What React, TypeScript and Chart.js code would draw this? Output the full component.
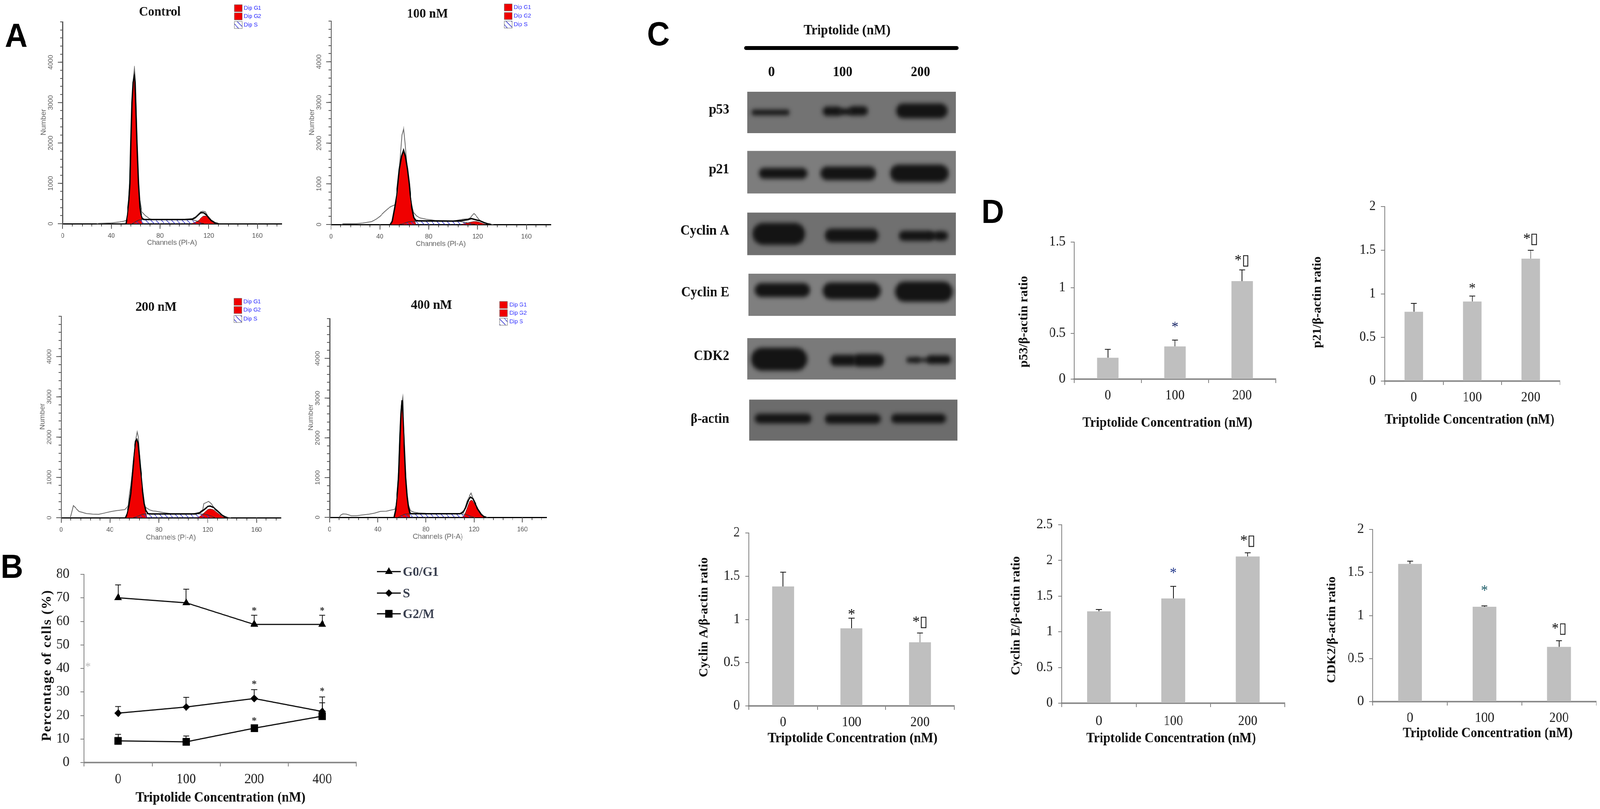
import { useEffect, useRef } from "react"
import { Chart, registerables } from "chart.js"
import { drawPoint } from "chart.js/helpers"

Chart.register(...registerables)

const SERIF = "'Liberation Serif', serif"
const SANS = "'Liberation Sans', sans-serif"
const PAGE_WIDTH = 4316

// ---- panel A: flow cytometry, [channel, count]
const controlRaw = [[28,0],[30,10],[40,20],[46,40],[50,60],[52,80],[53,130],[54,400],[55,1000],[56,2000],[57,3000],[58,3600],[59,3910],[60,3500],[61,2200],[62,1200],[63,650],[65,300],[68,200],[71,130],[73,110],[100,105],[106,120],[110,180],[113,290],[115,310],[117,300],[119,200],[122,90],[126,15],[128,0]]
const controlG1 = [[52,0],[53.2,220],[54.5,600],[55.3,1000],[56,2000],[56.9,3000],[57.8,3500],[58.9,3680],[59.5,3500],[60.1,3000],[61.1,2000],[62.3,1000],[63.5,400],[64.4,200],[65.2,0]]
const controlG2 = [[106,0],[110,50],[112,90],[114,150],[116,190],[118,190],[120,130],[122,70],[124,20],[126,0]]
const controlS = [[57,0],[60,50],[63,95],[66,100],[104,100],[107,95],[110,70],[113,30],[116,0]]
const controlFit = [[52,0],[53.2,220],[54.5,600],[55.3,1000],[56,2000],[56.9,3000],[57.8,3500],[58.9,3680],[59.5,3500],[60.1,3000],[61.1,2000],[62.3,1000],[63.5,400],[64.4,220],[65.5,130],[67,105],[100,105],[107,115],[109,150],[112,240],[114,275],[116,270],[119,190],[122,80],[125,25],[128,0]]
const controlPeaks = [58.9, 113.9]

const nM100Raw = [[8.5,0],[10,20],[20,20],[26,35],[33,70],[37,130],[40,200],[44,320],[47,400],[49,440],[52,480],[53,520],[54.5,800],[55.5,1200],[56.5,1600],[58,2200],[59.5,2370],[60.7,2000],[61.5,1700],[62.5,1350],[64,1000],[66,500],[67.5,300],[70,210],[73,160],[78,130],[85,100],[100,85],[108,130],[112,140],[114,160],[115.5,220],[117,270],[119,210],[121,130],[123,70],[126,30],[130,10],[133,0]]
const nM100G1 = [[48.6,0],[50.1,80],[52,400],[53.7,720],[54.7,1000],[55.9,1360],[57.7,1680],[59.4,1840],[60.9,1680],[62.6,1360],[64,1000],[64.8,720],[66.3,400],[67.8,170],[69.4,0]]
const nM100G2 = [[107,0],[110,30],[114,55],[118,75],[122,50],[125,15],[127,0]]
const nM100S = [[56,0],[60,30],[64,70],[68,80],[105,75],[110,50],[115,20],[118,0]]
const nM100Fit = [[48.6,0],[50.1,80],[52,400],[53.7,720],[54.7,1000],[55.9,1360],[57.7,1680],[59.4,1840],[60.9,1680],[62.6,1360],[64,1000],[64.8,720],[66.3,400],[67.8,170],[69.4,100],[72,90],[100,85],[107,95],[112,120],[115,145],[118,120],[122,90],[125,50],[128,20],[131,0]]
const nM100Peaks = [60, 117]

const nM200Raw = [[7.6,0],[10,300],[14.7,155],[20.7,105],[25.8,90],[30.8,85],[35.9,120],[41,155],[46,180],[52,200],[55,300],[56,600],[57,800],[58.5,1200],[60,1700],[61.5,2000],[62.3,2130],[63.2,2000],[64,1600],[65,1200],[66.5,700],[68,350],[69,260],[72,200],[75,170],[78,160],[83,130],[90,100],[108,100],[113,130],[116,200],[116.8,350],[120.8,405],[122.9,350],[126,200],[131,80],[135,15],[139,0]]
const nM200G1 = [[52.6,0],[54,100],[55.5,300],[57,600],[58.1,1000],[59.2,1400],[60.2,1700],[61,1900],[62,1945],[63,1850],[63.8,1600],[64.8,1250],[65.7,1000],[66.8,650],[68,350],[69.2,120],[70.3,0]]
const nM200G2 = [[111,0],[114,40],[117,120],[120,200],[122,215],[125,190],[128,120],[131,50],[133,15],[135,0]]
const nM200S = [[59,0],[63,40],[67,90],[70,95],[108,90],[112,95],[118,85],[122,50],[126,0]]
const nM200Fit = [[52.6,0],[54,100],[55.5,300],[57,600],[58.1,1000],[59.2,1400],[60.2,1700],[61,1900],[62,1945],[63,1850],[63.8,1600],[64.8,1250],[65.7,1000],[66.8,650],[68,350],[69.3,180],[71,100],[74,95],[110,95],[114,130],[117,200],[120,280],[122,290],[125,250],[128,170],[131,80],[134,25],[136,0]]
const nM200Peaks = [63, 120.6]

const nM400Raw = [[8,0],[9.5,60],[11,85],[14,80],[18,40],[22,40],[27,60],[33,80],[38,110],[42,150],[47,155],[52,190],[54,200],[55,300],[56.5,700],[57.5,1300],[58.5,2200],[59.5,2800],[60.7,3030],[61.5,2500],[62.5,1500],[63.5,900],[65,350],[67,170],[70,130],[74,110],[80,100],[108,90],[112,180],[114,400],[116,530],[117.5,610],[119,480],[121,330],[124,140],[127,40],[131,0]]
const nM400G1 = [[53.5,0],[55.2,245],[56.3,600],[57.3,1000],[58.4,2000],[59.2,2600],[60.1,2945],[60.9,2600],[61.8,2000],[63.2,1000],[64.3,550],[65.5,245],[66.6,0]]
const nM400G2 = [[110,0],[112,60],[114,220],[116,380],[118,430],[120,350],[122,240],[124,130],[126,50],[128,0]]
const nM400S = [[57,0],[60,50],[64,85],[66,85],[108,85],[112,80],[116,40],[120,0]]
const nM400Fit = [[53.5,0],[55.2,245],[56.3,600],[57.3,1000],[58.4,2000],[59.2,2600],[60.1,2945],[60.9,2600],[61.8,2000],[63.2,1000],[64.3,550],[65.5,245],[66.6,110],[68,90],[108,90],[111,130],[113,250],[115,420],[117,510],[119,470],[121,340],[123,210],[126,70],[128,20],[130,0]]
const nM400Peaks = [60.7, 116.5]

const flowLegendNames = ["Dip G1", "Dip G2", "Dip S"]

// ---- panel B
const doses = ["0", "100", "200", "400"]
const g0g1 = [70.06, 67.9, 58.7, 58.7]
const g0g1Upper = [75.5, 73.7, 62.6, 62.6]
const sPhase = [21, 23.6, 27.2, 21.7]
const sPhaseUpper = [23.8, 27.7, 31, 27.9]
const g2m = [9.2, 8.8, 14.6, 19.7]
const g2mUpper = [12, 11.3, 15.8, 25.4]

// ---- panel C: western blot bands in gel units
const blotNames = ["p53", "p21", "Cyclin A", "Cyclin E", "CDK2", "β-actin"]
const blotLanes = ["0", "100", "200"]
const blotRowY = [288, 441, 599, 755, 919, 1076]
const blotRowStart = [16, 16, 16, 19, 16, 21]
const blotRowEnd = [578, 578, 578, 578, 578, 583]
const blotRowHeight = [106, 109, 109, 108, 106, 105]
const blotRowShade = ["#737373", "#7d7d7d", "#707070", "#7f7f7f", "#7a7a7a", "#6c6c6c"]
// start, end, y, thickness
const blotBands = [
  [27,130,288,14],[219,270,285,24],[260,300,286,16],[290,341,284,24],[417,556,284,38],
  [47,178,444,28],[213,363,444,35],[401,559,444,45],
  [30,172,599,56],[225,370,603,35],[425,520,604,26],[505,530,604,14],[520,557,604,24],
  [36,185,743,36],[219,376,745,43],[414,570,747,52],
  [26,178,920,59],[239,310,923,29],[300,385,923,33],[445,480,922,14],[470,510,922,9],[500,565,921,22],
  [36,189,1072,25],[225,376,1073,25],[404,552,1072,24],
]

// ---- panel D
const barDoses = ["0", "100", "200"]
const p53Ratio = [0.234, 0.358, 1.073]
const p53Upper = [0.326, 0.427, 1.195]
const p21Ratio = [0.794, 0.912, 1.403]
const p21Upper = [0.89, 0.974, 1.499]
const cycARatio = [1.382, 0.897, 0.736]
const cycAUpper = [1.546, 1.015, 0.843]
const cycERatio = [1.287, 1.468, 2.056]
const cycEUpper = [1.313, 1.637, 2.107]
const cdk2Ratio = [1.6, 1.102, 0.636]
const cdk2Upper = [1.631, 1.112, 0.707]

const STAR = "*"
const STAR_BOX = "*\u25AF"

type Rect = { x0: number; x1: number; y0: number; y1: number; ml: number; mr: number; mt: number; mb: number }
type Txt = { t: string; x: number; y: number; font: string; color?: string; rot?: boolean; align?: CanvasTextAlign; spacing?: string }

const rectOf = (r: Rect) => ({
  left: r.x0 - r.ml,
  top: r.y0 - r.mt,
  width: r.x1 - r.x0 + r.ml + r.mr,
  height: r.y1 - r.y0 + r.mt + r.mb,
})

const letterFont = `bold 85px ${SANS}`
const titleFont = `bold 35px ${SERIF}`
const tickFont = { family: SERIF, size: 35 }

// writes text at page coordinates
const pageText = {
  id: "pageText",
  afterDraw(chart: any) {
    const { texts, rect } = chart.options.plugins.pageText
    if (!texts) return
    const ctx = chart.ctx
    const box = rectOf(rect)
    for (const s of texts as Txt[]) {
      ctx.save()
      ctx.translate(s.x - box.left, s.y - box.top)
      if (s.rot) ctx.rotate(-Math.PI / 2)
      ctx.font = s.font
      ctx.letterSpacing = s.spacing || "0px"
      ctx.fillStyle = s.color || "#111"
      ctx.textAlign = s.align || "center"
      ctx.textBaseline = "middle"
      ctx.fillText(s.t, 0, 0)
      ctx.restore()
    }
  },
}

// upper error bars, read from dataset.upper
const errorBars = {
  id: "errorBars",
  beforeDatasetsDraw(chart: any) {
    const ctx = chart.ctx
    chart.data.datasets.forEach((ds: any, i: number) => {
      if (!ds.upper) return
      chart.getDatasetMeta(i).data.forEach((el: any, j: number) => {
        const y = chart.scales.y.getPixelForValue(ds.upper[j])
        const base = chart.scales.y.getPixelForValue(ds.data[j])
        ctx.save()
        ctx.strokeStyle = "#111"
        ctx.lineWidth = 2
        ctx.beginPath()
        ctx.moveTo(el.x, base)
        ctx.lineTo(el.x, y)
        ctx.moveTo(el.x - 8, y)
        ctx.lineTo(el.x + 8, y)
        ctx.stroke()
        ctx.restore()
      })
    })
  },
}

// significance marks: [category, value, text]
const sigMarks = {
  id: "sigMarks",
  afterDatasetsDraw(chart: any) {
    const { marks, font, color } = chart.options.plugins.sigMarks
    if (!marks) return
    const ctx = chart.ctx
    ctx.save()
    ctx.font = font
    ctx.textAlign = "center"
    ctx.textBaseline = "middle"
    for (const [cat, value, text] of marks) {
      ctx.fillStyle = text === STAR ? color : "#111"
      ctx.fillText(text, chart.scales.x.getPixelForValue(cat), chart.scales.y.getPixelForValue(value) + 6)
    }
    ctx.restore()
  },
}

// longer ticks on the flow axes and the small Dip legend
const flowExtras = {
  id: "flowExtras",
  afterDraw(chart: any) {
    const opts = chart.options.plugins.flowExtras
    if (!opts.legend) return
    const ctx = chart.ctx
    const { x: xs, y: ys } = chart.scales
    const box = rectOf(opts.rect)
    ctx.save()
    ctx.strokeStyle = "#555"
    ctx.lineWidth = 2
    ctx.beginPath()
    ys.ticks.forEach((t: any) => {
      if (t.value % 1000 === 0 && t.value < 5000) {
        const p = ys.getPixelForValue(t.value)
        ctx.moveTo(ys.right, p)
        ctx.lineTo(ys.right - 13, p)
      }
    })
    xs.ticks.forEach((t: any) => {
      if (t.value % 40 === 0) {
        const p = xs.getPixelForValue(t.value)
        ctx.moveTo(p, xs.top)
        ctx.lineTo(p, xs.top + 13)
      }
    })
    ctx.stroke()
    flowLegendNames.forEach((name, i) => {
      const sx = opts.legend.x - box.left
      const sy = opts.legend.ys[i] - box.top
      ctx.fillStyle = i < 2 ? "#f00000" : opts.hatch
      if (i === 2) {
        ctx.fillStyle = "#fff"
        ctx.fillRect(sx, sy - 9, 21, 18)
        ctx.fillStyle = opts.hatch
      }
      ctx.fillRect(sx, sy - 9, 21, 18)
      ctx.strokeStyle = "#666"
      ctx.lineWidth = 1
      ctx.strokeRect(sx, sy - 9, 21, 18)
      ctx.fillStyle = "#2a2aff"
      ctx.font = `15px ${SANS}`
      ctx.textAlign = "left"
      ctx.textBaseline = "middle"
      ctx.fillText(name, sx + 26, sy)
    })
    ctx.restore()
  },
}

// blurred blot bands
const bandBlur = {
  id: "bandBlur",
  beforeDatasetDraw(chart: any, args: any) {
    if (chart.data.datasets[args.index].blur) chart.ctx.filter = "blur(6px)"
  },
  afterDatasetDraw(chart: any) {
    chart.ctx.filter = "none"
  },
}

// legend of panel B, built from the datasets
const phaseLegend = {
  id: "phaseLegend",
  afterDraw(chart: any) {
    const opts = chart.options.plugins.phaseLegend
    if (!opts.ys) return
    const ctx = chart.ctx
    const box = rectOf(opts.rect)
    ctx.save()
    chart.data.datasets.forEach((ds: any, i: number) => {
      const y = opts.ys[i] - box.top
      const x = 1017 - box.left
      ctx.strokeStyle = "#000"
      ctx.lineWidth = 3
      ctx.beginPath()
      ctx.moveTo(x, y)
      ctx.lineTo(x + 64, y)
      ctx.stroke()
      ctx.fillStyle = "#000"
      drawPoint(ctx, { pointStyle: ds.pointStyle, radius: ds.pointRadius, rotation: 0, borderWidth: 0 } as any, x + 32, y)
      ctx.font = `bold 34px ${SERIF}`
      ctx.fillStyle = "#3a4050"
      ctx.textAlign = "left"
      ctx.textBaseline = "middle"
      ctx.fillText(ds.label, x + 70, y + 2)
    })
    ctx.restore()
  },
}

const hatchPattern = () => {
  const c = document.createElement("canvas")
  c.width = 14
  c.height = 14
  const g = c.getContext("2d")!
  g.strokeStyle = "#3a3ad0"
  g.lineWidth = 1.6
  g.beginPath()
  g.moveTo(-2, -2)
  g.lineTo(16, 16)
  g.moveTo(-9, 5)
  g.lineTo(9, 23)
  g.moveTo(5, -9)
  g.lineTo(23, 9)
  g.stroke()
  return g.createPattern(c, "repeat")!
}

const pts = (list: number[][]) => list.map(([x, y]) => ({ x, y }))

type FlowDef = {
  rect: Rect
  raw: number[][]
  g1: number[][]
  g2: number[][]
  s: number[][]
  fit: number[][]
  peaks: number[]
  legend: { x: number; ys: number[] }
  texts: Txt[]
}

const flowFont = `19px ${SANS}`
const flowGrey = "#666"

const flowConfig = (f: FlowDef) => {
  const hatch = hatchPattern()
  return {
    type: "line",
    data: {
      datasets: [
        { data: f.peaks.map((x) => ({ x, y: -115 })), showLine: false, pointStyle: "triangle", pointRadius: 11, pointBackgroundColor: "#000", pointBorderWidth: 0, clip: false },
        { data: pts(f.fit), borderColor: "#000", borderWidth: 3.5, pointRadius: 0, fill: false, clip: false },
        { data: pts(f.raw), borderColor: flowGrey, borderWidth: 2, pointRadius: 0, fill: false, clip: false },
        { data: pts(f.s), borderColor: "#333", borderWidth: 1.5, pointRadius: 0, fill: "origin", backgroundColor: hatch, cubicInterpolationMode: "monotone" },
        { data: pts(f.g2), borderColor: "#300", borderWidth: 1, pointRadius: 0, fill: "origin", backgroundColor: "#f00000", cubicInterpolationMode: "monotone" },
        { data: pts(f.g1), borderColor: "#300", borderWidth: 1, pointRadius: 0, fill: "origin", backgroundColor: "#f00000" },
      ],
    },
    options: {
      responsive: false,
      animation: false,
      devicePixelRatio: 1,
      events: [],
      layout: { autoPadding: false, padding: { top: f.rect.mt, right: f.rect.mr } },
      scales: {
        x: {
          type: "linear",
          min: 0,
          max: 180,
          afterFit: (s: any) => { s.height = f.rect.mb },
          border: { color: "#000", width: 3 },
          grid: { drawOnChartArea: false, color: "#555", lineWidth: 2, tickLength: 7 },
          ticks: {
            stepSize: 8,
            autoSkip: false,
            includeBounds: false,
            maxRotation: 0,
            padding: 14,
            color: "#555",
            font: { family: SANS, size: 17 },
            callback: (v: any) => (v % 40 === 0 ? String(v) : ""),
          },
        },
        y: {
          min: 0,
          max: 5000,
          afterFit: (s: any) => { s.width = f.rect.ml },
          border: { color: "#555", width: 3 },
          grid: { drawOnChartArea: false, color: "#555", lineWidth: 2, tickLength: 7 },
          ticks: {
            stepSize: 200,
            autoSkip: false,
            minRotation: 90,
            maxRotation: 90,
            crossAlign: "center",
            padding: 6,
            color: "#555",
            font: { family: SANS, size: 17 },
            callback: (v: any) => (v % 1000 === 0 && v < 5000 ? String(v) : ""),
          },
        },
      },
      plugins: {
        legend: { display: false },
        tooltip: { enabled: false },
        pageText: { texts: f.texts, rect: f.rect },
        flowExtras: { rect: f.rect, legend: f.legend, hatch },
      },
    },
    plugins: [pageText, flowExtras],
  }
}

const flowRect = (x0: number, x1: number, y0: number, y1: number): Rect => ({ x0, x1, y0, y1, ml: 168, mr: 10, mt: 52, mb: 72 })

const flows: FlowDef[] = [
  {
    rect: flowRect(169, 760, 56, 573),
    raw: controlRaw, g1: controlG1, g2: controlG2, s: controlS, fit: controlFit, peaks: controlPeaks,
    legend: { x: 632, ys: [21, 42, 64] },
    texts: [
      { t: "A", x: 44, y: 97, font: letterFont, color: "#000" },
      { t: "Control", x: 431, y: 31, font: `bold 34px ${SERIF}` },
      { t: "Channels (PI-A)", x: 464, y: 622, font: flowFont, color: flowGrey },
      { t: "Number", x: 118, y: 313, font: flowFont, color: flowGrey, rot: true },
    ],
  },
  {
    rect: flowRect(893, 1486, 54, 575),
    raw: nM100Raw, g1: nM100G1, g2: nM100G2, s: nM100S, fit: nM100Fit, peaks: nM100Peaks,
    legend: { x: 1360, ys: [19, 41, 63] },
    texts: [
      { t: "100 nM", x: 1153, y: 36, font: `bold 34px ${SERIF}` },
      { t: "Channels (PI-A)", x: 1189, y: 625, font: flowFont, color: flowGrey },
      { t: "Number", x: 842, y: 313, font: flowFont, color: flowGrey, rot: true },
    ],
  },
  {
    rect: flowRect(165, 758, 810, 1326),
    raw: nM200Raw, g1: nM200G1, g2: nM200G2, s: nM200S, fit: nM200Fit, peaks: nM200Peaks,
    legend: { x: 631, ys: [773, 794, 817] },
    texts: [
      { t: "200 nM", x: 421, y: 787, font: `bold 34px ${SERIF}` },
      { t: "Channels (PI-A)", x: 461, y: 1377, font: flowFont, color: flowGrey },
      { t: "Number", x: 115, y: 1067, font: flowFont, color: flowGrey, rot: true },
    ],
  },
  {
    rect: flowRect(889, 1474, 816, 1325),
    raw: nM400Raw, g1: nM400G1, g2: nM400G2, s: nM400S, fit: nM400Fit, peaks: nM400Peaks,
    legend: { x: 1348, ys: [781, 802, 824] },
    texts: [
      { t: "400 nM", x: 1164, y: 782, font: `bold 34px ${SERIF}` },
      { t: "Channels (PI-A)", x: 1181, y: 1375, font: flowFont, color: flowGrey },
      { t: "Number", x: 839, y: 1069, font: flowFont, color: flowGrey, rot: true },
    ],
  },
]

const AXIS_GREY = "#808080"

const catTicks = (rect: Rect, padding: number) => ({
  afterFit: (s: any) => { s.height = rect.mb },
  offset: true,
  border: { color: "#8c8c8c", width: 4 },
  grid: { drawOnChartArea: false, offset: true, color: AXIS_GREY, lineWidth: 2, tickLength: 10 },
  ticks: { font: tickFont, color: "#222", padding, maxRotation: 0, autoSkip: false },
})

const valueTicks = (rect: Rect, max: number, step: number, padding: number) => ({
  min: 0,
  max,
  afterFit: (s: any) => { s.width = rect.ml },
  border: { color: AXIS_GREY, width: 2 },
  grid: { drawOnChartArea: false, color: AXIS_GREY, lineWidth: 2, tickLength: 10 },
  ticks: { stepSize: step, font: tickFont, color: "#222", padding, autoSkip: false, callback: (v: any) => String(v) },
})

// panel B
const phaseRect: Rect = { x0: 227, x1: 961, y0: 1450, y1: 1953, ml: 227, mr: 260, mt: 30, mb: 119 }

const phaseConfig = () => ({
  type: "line",
  data: {
    labels: doses,
    datasets: [
      { label: "G0/G1", data: g0g1, upper: g0g1Upper, pointStyle: "triangle", pointRadius: 12 },
      { label: "S", data: sPhase, upper: sPhaseUpper, pointStyle: "rectRot", pointRadius: 10 },
      { label: "G2/M", data: g2m, upper: g2mUpper, pointStyle: "rect", pointRadius: 14 },
    ].map((d) => ({ ...d, borderColor: "#111", borderWidth: 3, pointBackgroundColor: "#000", pointBorderWidth: 0, fill: false, clip: false })),
  },
  options: {
    responsive: false,
    animation: false,
    devicePixelRatio: 1,
    events: [],
    layout: { autoPadding: false, padding: { top: phaseRect.mt, right: phaseRect.mr } },
    scales: { x: catTicks(phaseRect, 13), y: valueTicks(phaseRect, 80, 10, 30) },
    plugins: {
      legend: { display: false },
      tooltip: { enabled: false },
      errorBars: {},
      sigMarks: {
        marks: [[2, 65.4, STAR], [3, 65.4, STAR], [2, 34.2, STAR], [3, 31.2, STAR], [2, 18.6, STAR]],
        font: `bold 26px ${SERIF}`,
        color: "#333",
      },
      phaseLegend: { ys: [1464, 1519, 1572], rect: phaseRect },
      pageText: {
        rect: phaseRect,
        texts: [
          { t: "B", x: 32, y: 1457, font: letterFont, color: "#000" },
          { t: "*", x: 237, y: 1708, font: `30px ${SERIF}`, color: "#bbb" },
          { t: "Percentage of cells (%)", x: 128, y: 1704, font: `bold 35px ${SERIF}`, rot: true, spacing: "2px" },
          { t: "Triptolide Concentration (nM)", x: 595, y: 2044, font: titleFont },
        ],
      },
    },
  },
  plugins: [errorBars, sigMarks, phaseLegend, pageText],
})

// panel C
const gelRect: Rect = { x0: 2000, x1: 2600, y0: 0, y1: 1200, ml: 300, mr: 20, mt: 0, mb: 0 }

const blotConfig = () => ({
  type: "line",
  data: {
    datasets: [
      { data: pts([[12, 123], [581, 123]]), borderColor: "#000", borderWidth: 10, borderCapStyle: "round", order: 0 },
      ...blotBands.map(([a, b, y, t]) => ({
        data: pts([[a + t / 2, y], [b - t / 2, y]]),
        borderColor: "#141414",
        borderWidth: t,
        borderCapStyle: "round",
        blur: true,
        order: 1,
      })),
      ...blotNames.map((_, i) => ({
        data: pts([[blotRowStart[i], blotRowY[i]], [blotRowEnd[i], blotRowY[i]]]),
        borderColor: blotRowShade[i],
        borderWidth: blotRowHeight[i],
        borderCapStyle: "butt",
        order: 2,
      })),
    ].map((d) => ({ ...d, pointRadius: 0, fill: false, clip: false })),
  },
  options: {
    responsive: false,
    animation: false,
    devicePixelRatio: 1,
    events: [],
    layout: { autoPadding: false, padding: { left: gelRect.ml, right: gelRect.mr } },
    scales: {
      x: { type: "linear", min: 0, max: 600, display: false },
      y: { min: 0, max: 1200, reverse: true, display: false },
    },
    plugins: {
      legend: { display: false },
      tooltip: { enabled: false },
      pageText: {
        rect: gelRect,
        texts: [
          { t: "C", x: 1776, y: 93, font: letterFont, color: "#000" },
          { t: "Triptolide (nM)", x: 2285, y: 79, font: titleFont },
          ...blotLanes.map((t, i) => ({ t, x: [2081, 2273, 2483][i], y: 186, font: titleFont })),
          ...blotNames.map((t, i) => ({ t, x: 1967, y: [282, 435, 592, 750, 913, 1074][i], font: titleFont, align: "right" as CanvasTextAlign })),
        ],
      },
    },
  },
  plugins: [bandBlur, pageText],
})

// panel D
type BarDef = {
  rect: Rect
  values: number[]
  upper: number[]
  max: number
  marks: any[]
  xPad: number
  starColor: string
  texts: Txt[]
}

const barRect = (x0: number, x1: number, y0: number, y1: number): Rect => ({ x0, x1, y0, y1, ml: 290, mr: 10, mt: 130, mb: 150 })

const barConfig = (b: BarDef) => ({
  type: "bar",
  data: {
    labels: barDoses,
    datasets: [
      { data: b.values, upper: b.upper, backgroundColor: "#bfbfbf", categoryPercentage: 1, barPercentage: 0.32 },
    ],
  },
  options: {
    responsive: false,
    animation: false,
    devicePixelRatio: 1,
    events: [],
    layout: { autoPadding: false, padding: { top: b.rect.mt, right: b.rect.mr } },
    scales: { x: catTicks(b.rect, b.xPad), y: valueTicks(b.rect, b.max, 0.5, 14) },
    plugins: {
      legend: { display: false },
      tooltip: { enabled: false },
      errorBars: {},
      sigMarks: { marks: b.marks, font: `38px ${SERIF}`, color: b.starColor },
      pageText: { rect: b.rect, texts: b.texts },
    },
  },
  plugins: [errorBars, sigMarks, pageText],
})

const ratioFont = `bold 33px ${SERIF}`

const bars: BarDef[] = [
  {
    rect: barRect(2898, 3441, 620, 971),
    values: p53Ratio, upper: p53Upper, max: 1.5, xPad: 12, starColor: "#1c2a6a",
    marks: [[1, 0.59, STAR], [2, 1.32, STAR_BOX]],
    texts: [
      { t: "D", x: 2678, y: 548, font: letterFont, color: "#000" },
      { t: "p53/β-actin ratio", x: 2762, y: 824, font: ratioFont, rot: true },
      { t: "Triptolide Concentration (nM)", x: 3149, y: 1084, font: titleFont },
    ],
  },
  {
    rect: barRect(3735, 4208, 529, 976),
    values: p21Ratio, upper: p21Upper, max: 2, xPad: 12, starColor: "#222",
    marks: [[1, 1.083, STAR], [2, 1.651, STAR_BOX]],
    texts: [
      { t: "p21/β-actin ratio", x: 3554, y: 774, font: ratioFont, rot: true },
      { t: "Triptolide Concentration (nM)", x: 3964, y: 1076, font: titleFont },
    ],
  },
  {
    rect: barRect(2020, 2574, 1365, 1808),
    values: cycARatio, upper: cycAUpper, max: 2, xPad: 12, starColor: "#111",
    marks: [[1, 1.079, STAR], [2, 0.993, STAR_BOX]],
    texts: [
      { t: "Cyclin A/β-actin ratio", x: 1899, y: 1581, font: ratioFont, rot: true },
      { t: "Triptolide Concentration (nM)", x: 2300, y: 1892, font: titleFont },
    ],
  },
  {
    rect: barRect(2864, 3466, 1344, 1801),
    values: cycERatio, upper: cycEUpper, max: 2.5, xPad: 16, starColor: "#2a3f8f",
    marks: [[1, 1.849, STAR], [2, 2.303, STAR_BOX]],
    texts: [
      { t: "Cyclin E/β-actin ratio", x: 2741, y: 1577, font: ratioFont, rot: true },
      { t: "Triptolide Concentration (nM)", x: 3159, y: 1892, font: titleFont },
    ],
  },
  {
    rect: barRect(3703, 4306, 1356, 1797),
    values: cdk2Ratio, upper: cdk2Upper, max: 2, xPad: 12, starColor: "#1f5f6a",
    marks: [[1, 1.311, STAR], [2, 0.871, STAR_BOX]],
    texts: [
      { t: "CDK2/β-actin ratio", x: 3593, y: 1613, font: ratioFont, rot: true },
      { t: "Triptolide Concentration (nM)", x: 4013, y: 1879, font: titleFont },
    ],
  },
]

function Panel({ rect, build }: { rect: Rect; build: () => any }) {
  const ref = useRef<HTMLCanvasElement>(null)
  const box = rectOf(rect)

  useEffect(() => {
    if (!ref.current) return
    const chart = new Chart(ref.current, build())
    return () => chart.destroy()
  }, [])

  return (
    <canvas
      ref={ref}
      width={box.width}
      height={box.height}
      style={{ position: "absolute", left: box.left, top: box.top, width: box.width, height: box.height }}
    />
  )
}

export default function App() {
  // the browser window stops at 4096 wide, so squeeze the 4316 layout to fit
  const squeeze = Math.min(1, window.innerWidth / PAGE_WIDTH)
  return (
    <div
      style={{
        position: "absolute",
        left: 0,
        top: 0,
        width: PAGE_WIDTH,
        height: 2072,
        background: "#fff",
        overflow: "hidden",
        transform: `scaleX(${squeeze})`,
        transformOrigin: "0 0",
      }}
    >
      {flows.map((f, i) => (
        <Panel key={"flow" + i} rect={f.rect} build={() => flowConfig(f)} />
      ))}
      <Panel rect={phaseRect} build={phaseConfig} />
      <Panel rect={gelRect} build={blotConfig} />
      {bars.map((b, i) => (
        <Panel key={"bar" + i} rect={b.rect} build={() => barConfig(b)} />
      ))}
    </div>
  )
}
